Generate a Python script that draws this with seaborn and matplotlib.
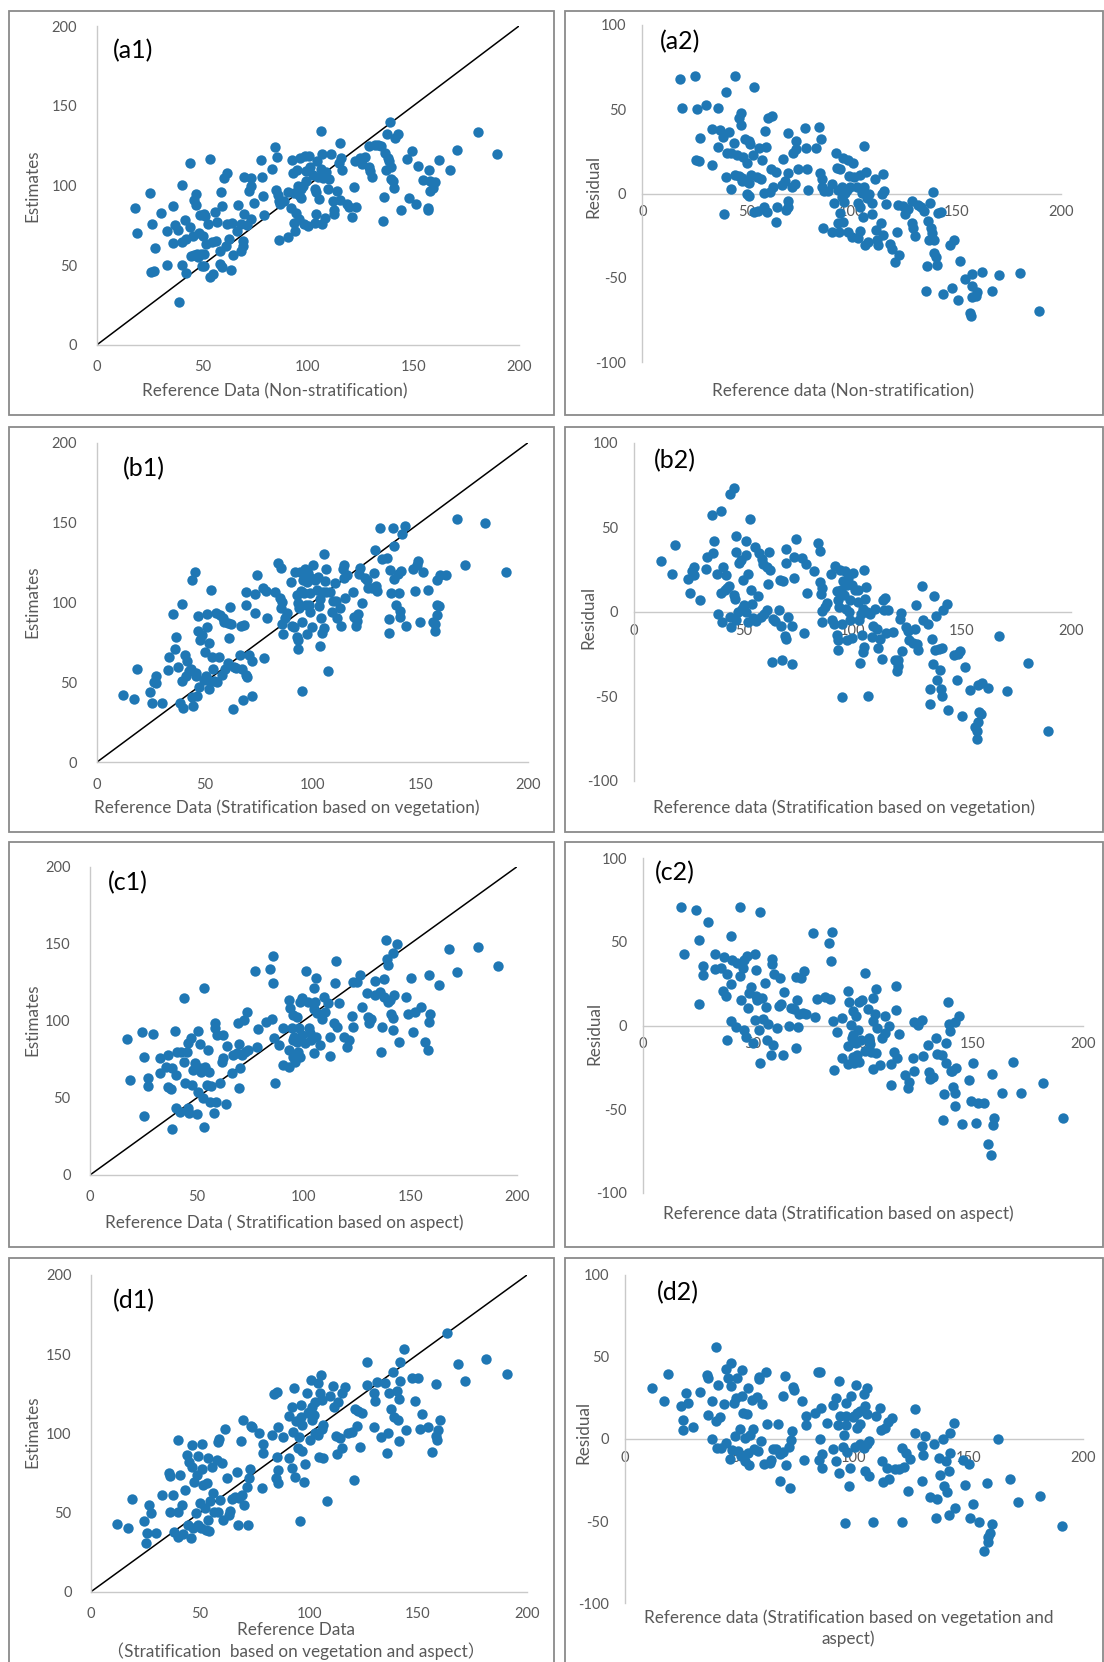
import numpy as np
import pandas as pd
import matplotlib
matplotlib.use("Agg")
import matplotlib.pyplot as plt
import seaborn as sns
from matplotlib.patches import Rectangle
from matplotlib.ticker import MultipleLocator

# ---------------- data ----------------
# (a) Non-stratification: reference values and residuals (estimate - reference)
ref_a = [18.0, 19.1, 25.2, 26.0, 25.7, 27.3, 27.7, 30.4, 33.3, 33.3, 36.3, 36.3, 37.3, 38.4, 38.9,
         40.2, 40.2, 40.5, 41.6, 42.3, 42.3, 44.0, 44.3, 44.5, 45.4, 46.1, 46.1, 47.0, 47.2, 47.5,
         47.8, 48.3, 49.1, 49.6, 49.9, 50.2, 51.0, 51.0, 51.0, 51.5, 52.0, 52.9, 53.5, 53.5, 54.7,
         55.1, 55.8, 56.6, 57.1, 58.3, 58.8, 59.3, 58.3, 59.4, 60.2, 61.8, 61.0, 61.5, 62.6, 63.9,
         64.4, 63.7, 66.6, 67.1, 68.2, 68.5, 69.5, 69.5, 69.6, 69.6, 71.4, 72.2, 73.3, 73.3, 73.0,
         74.6, 77.6, 78.4, 78.7, 79.2, 82.9, 84.5, 84.9, 85.4, 85.7, 86.1, 86.4, 86.7, 88.9, 90.5,
         90.5, 92.4, 91.8, 92.9, 93.4, 93.4, 94.0, 94.5, 94.7, 95.3, 95.6, 95.8, 96.1, 96.6, 96.9,
         97.7, 98.2, 98.5, 98.9, 99.3, 100.1, 100.6, 101.2, 102.5, 103.3, 103.3, 103.9, 103.9, 104.2, 104.9,
         105.3, 106.0, 106.0, 106.5, 106.8, 107.2, 108.0, 108.4, 109.6, 110.0, 111.2, 111.7, 112.2, 112.5, 113.9,
         114.7, 115.2, 115.2, 115.7, 116.3, 118.4, 119.5, 120.8, 121.8, 122.4, 122.9, 124.8, 125.6, 126.9, 129.1,
         129.1, 129.6, 130.4, 132.0, 133.2, 134.8, 135.4, 135.9, 136.4, 137.1, 137.7, 138.0, 138.3, 138.8, 139.3,
         139.6, 140.2, 140.9, 141.5, 142.8, 143.9, 147.1, 147.9, 149.2, 151.1, 152.0, 154.3, 157.4, 156.7, 157.1,
         157.8, 157.8, 159.4, 160.0, 162.2, 167.3, 170.7, 180.6, 189.6]
res_a = [68.0, 51.0, 69.8, 50.0, 20.0, 19.4, 33.2, 52.4, 38.3, 16.8, 50.6, 27.9, 37.7, 33.8, -11.9,
         60.3, 9.7, 23.9, 36.8, 2.8, 23.9, 30.2, 70.0, 11.1, 22.9, 44.7, 10.5, 47.6, 40.7, 9.5,
         7.3, 21.9, 32.6, 7.7, -0.4, 18.0, 31.0, 6.1, -1.4, 29.2, 11.1, 23.1, 63.4, -10.7, 9.7,
         -10.3, 27.3, 8.5, 20.0, 0.6, 37.4, 27.9, -7.7, -10.7, 44.7, 46.0, 1.2, 14.4, 3.8, 12.6,
         -8.1, -16.8, 5.1, 20.4, 7.7, -9.7, -4.2, -7.7, 36.0, 12.5, 3.8, 24.3, 31.2, 26.3, 5.7,
         14.4, 38.7, 26.9, 14.8, 2.0, 27.3, 39.7, 12.1, 32.2, 8.5, 4.2, -20.6, 1.6, 1.6, 5.7,
         -22.5, 23.9, -5.7, 15.0, 2.2, -17.2, -22.5, -11.7, 14.8, 4.2, -1.8, -16.6, 20.9, -4.7, 0.6,
         2.2, -22.5, 20.0, 10.5, 3.8, -25.5, 18.0, 10.1, 4.2, -5.3, -26.5, -21.9, -7.7, 11.1, 0.6,
         -14.0, 28.3, 4.2, -30.4, 13.0, -2.8, -28.5, -0.2, -12.1, -5.7, 8.5, -21.5, -27.5, -30.6, -17.2,
         -0.4, 11.7, -24.5, 1.6, -6.3, -30.0, -33.0, -40.3, -22.5, -6.9, -36.4, -7.3, -12.1, -9.3, -4.2,
         -17.2, -20.6, -25.1, -6.9, -8.1, -10.3, -57.7, -42.9, -16.0, -27.5, -5.7, -20.6, -23.1, 1.0, -27.5,
         -35.4, -37.4, -42.3, -11.7, -10.7, -59.5, -30.4, -55.7, -27.5, -63.0, -39.7, -50.8, -47.6, -70.9, -72.5,
         -54.7, -61.1, -60.7, -58.1, -46.2, -57.7, -48.2, -47.2, -69.6]

# (b) Stratification based on vegetation: reference values and residuals
ref_b = [12.4, 17.4, 18.9, 24.6, 25.8, 26.4, 27.3, 27.6, 30.1, 33.0, 33.3, 35.5, 36.3, 36.6, 37.8,
         38.6, 39.7, 39.7, 40.1, 40.9, 41.6, 41.9, 42.7, 43.6, 44.0, 44.1, 44.5, 45.6, 45.9, 46.2,
         46.5, 46.8, 46.8, 47.4, 48.0, 49.0, 49.6, 50.0, 50.5, 51.1, 51.1, 51.4, 52.0, 52.3, 53.1,
         53.4, 53.9, 54.6, 55.3, 55.9, 56.6, 57.4, 58.1, 58.7, 59.2, 59.6, 60.7, 60.7, 61.5, 61.8,
         62.2, 63.3, 63.7, 64.5, 66.5, 66.8, 67.3, 67.9, 68.3, 69.1, 69.4, 69.4, 69.7, 70.6, 72.2,
         72.2, 73.4, 73.4, 74.3, 77.0, 77.6, 78.6, 79.0, 82.5, 84.0, 85.1, 85.3, 85.6, 85.9, 85.9,
         86.2, 87.4, 88.2, 90.1, 90.5, 91.7, 92.0, 92.7, 92.7, 93.2, 93.2, 93.5, 93.8, 94.3, 94.7,
         95.0, 95.3, 95.8, 96.2, 96.6, 96.9, 97.4, 97.6, 98.1, 98.4, 98.8, 98.8, 99.6, 99.9, 100.4,
         101.1, 102.3, 102.7, 103.1, 103.4, 103.7, 104.2, 104.6, 105.0, 105.2, 105.4, 105.7, 106.2, 106.5, 107.2,
         108.0, 109.1, 109.5, 110.3, 111.0, 111.5, 112.6, 113.3, 114.1, 114.6, 114.9, 115.2, 116.1, 118.7, 119.5,
         120.2, 120.7, 121.0, 121.7, 122.2, 122.8, 124.3, 125.2, 125.9, 127.8, 128.6, 129.0, 129.4, 130.1, 131.6,
         132.4, 134.7, 135.5, 135.5, 136.2, 136.7, 137.5, 137.7, 138.0, 138.8, 139.6, 140.0, 140.5, 140.8, 141.1,
         141.6, 143.1, 143.6, 146.6, 147.7, 148.4, 149.2, 150.0, 151.5, 153.8, 156.1, 157.0, 157.1, 157.6, 157.6,
         157.9, 158.8, 159.1, 162.2, 167.0, 170.6, 180.2, 189.6]
res_b = [29.8, 22.1, 39.3, 19.1, 11.0, 24.1, 26.4, 21.9, 6.7, 25.0, 32.5, 57.4, 34.7, 41.6, 22.1,
         -1.2, 59.6, 11.0, -6.1, 26.4, 12.6, 21.5, 14.2, 15.0, -3.2, 69.8, -9.1, 73.4, 10.1, 7.7,
         -5.1, 44.8, 35.3, -0.2, 28.8, 30.4, 1.8, 18.9, 3.7, 41.8, 33.3, -0.2, -6.1, 22.5, 55.0,
         12.6, 4.7, -3.6, 38.3, -5.5, 9.1, 34.7, -3.2, 31.4, 28.4, -1.2, 1.2, 26.4, 16.2, 35.3,
         24.5, -30.0, -4.1, -5.7, 0.8, 18.5, -8.7, -28.8, 17.9, -14.6, 28.8, 37.3, -16.2, -3.2, -30.8,
         -8.7, 20.1, 32.1, 43.0, 31.8, -12.6, 28.4, 11.0, 24.1, 40.6, 17.6, 36.1, 10.7, 14.2, 0.4,
         -6.1, 2.8, 5.3, 22.5, -5.1, -7.1, 26.8, 12.2, -14.0, 6.7, -16.6, -22.9, 2.8, 24.9, 12.6,
         -7.1, -50.5, 18.1, 9.7, 24.1, 1.8, 15.6, -17.0, 20.1, -0.2, 7.1, -4.7, 15.6, -15.4, 22.9,
         13.0, 5.7, 13.0, -5.1, -30.4, -1.2, -14.0, -23.9, 1.8, -20.9, 24.9, 7.7, 14.6, -0.2, -50.1,
         -1.2, -15.0, -8.7, 1.8, -10.1, -21.3, -16.0, -27.8, 7.1, 0.8, 8.3, -12.6, 0.8, -12.0, -28.8,
         -35.1, -32.3, -28.4, -4.1, -0.8, -23.3, -9.1, -11.4, -17.0, -18.5, -10.1, 3.7, -18.9, -22.9, 15.0,
         -5.1, -7.1, -45.6, -54.8, -16.0, -30.8, 9.1, -22.9, -2.8, -40.6, -21.9, -34.3, -45.6, -50.1, -21.3,
         1.2, 4.7, -58.4, -25.8, -40.6, -24.9, -23.5, -61.9, -32.7, -46.2, -68.2, -75.1, -70.6, -65.3, -43.6,
         -59.4, -60.7, -42.2, -45.0, -14.6, -46.9, -30.4, -70.6]

# (c) Stratification based on aspect: reference values and estimates
ref_c = [17.2, 18.8, 24.2, 25.5, 25.5, 27.3, 27.3, 29.7, 32.8, 32.8, 35.6, 36.3, 36.6, 37.8, 38.4,
         38.4, 40.0, 40.2, 40.2, 40.6, 42.2, 42.7, 44.1, 44.1, 44.5, 45.3, 45.8, 46.1, 46.6, 47.3,
         47.7, 48.4, 49.2, 50.0, 50.8, 50.8, 51.3, 51.3, 51.9, 52.8, 53.4, 53.4, 53.9, 54.7, 55.5,
         55.9, 56.3, 56.7, 58.1, 58.6, 58.6, 59.1, 59.7, 60.9, 61.7, 62.2, 62.5, 63.6, 64.1, 66.4,
         67.2, 68.8, 69.5, 69.7, 70.0, 70.3, 71.1, 71.9, 72.7, 73.4, 74.2, 77.3, 78.1, 78.9, 82.5,
         84.4, 85.2, 85.6, 85.9, 86.3, 86.7, 88.3, 90.6, 90.6, 93.0, 93.0, 93.4, 93.8, 94.5, 95.0,
         95.3, 95.3, 95.6, 96.9, 98.4, 99.5, 97.7, 96.9, 97.3, 96.1, 98.4, 99.2, 100.8, 101.1, 102.3,
         102.7, 103.1, 103.6, 104.7, 104.7, 105.5, 105.8, 105.8, 106.3, 104.7, 107.8, 108.6, 109.8, 110.2, 111.7,
         112.5, 112.5, 114.1, 114.8, 115.2, 115.6, 116.4, 119.2, 120.3, 121.1, 122.7, 123.0, 123.4, 125.0, 126.6,
         127.3, 129.7, 130.2, 130.5, 131.7, 133.3, 133.6, 136.0, 136.4, 137.0, 137.5, 137.9, 138.6, 139.1, 139.5,
         139.8, 140.6, 141.1, 141.7, 141.7, 141.9, 142.2, 143.8, 144.8, 148.0, 149.1, 150.2, 151.3, 152.3, 155.2,
         157.0, 158.3, 158.6, 158.9, 159.4, 163.3, 168.3, 171.9, 181.7, 191.1]
est_c = [88.2, 61.8, 93.0, 38.5, 76.8, 63.1, 57.7, 91.5, 75.7, 66.4, 70.3, 56.9, 77.8, 55.6, 29.6,
         69.2, 93.6, 64.9, 43.2, 80.0, 41.1, 80.0, 115.0, 73.5, 59.5, 80.0, 43.2, 85.4, 40.0, 88.6,
         58.4, 68.1, 72.4, 39.4, 93.4, 54.1, 84.8, 69.2, 67.0, 50.2, 121.5, 30.9, 70.3, 58.4, 81.1,
         67.0, 47.6, 57.9, 40.4, 98.4, 95.1, 47.6, 90.8, 59.5, 73.5, 90.8, 75.7, 45.8, 83.9, 65.9,
         77.8, 79.0, 98.4, 56.6, 85.2, 69.2, 77.8, 100.5, 80.0, 105.9, 81.1, 132.5, 83.2, 94.7, 99.5,
         133.6, 101.0, 124.3, 142.1, 89.1, 59.9, 84.3, 95.1, 71.4, 113.5, 81.1, 70.3, 108.1, 95.1, 87.6,
         103.8, 76.8, 89.7, 102.7, 112.4, 114.6, 95.1, 86.5, 80.0, 73.5, 76.8, 90.8, 85.4, 132.3, 112.4,
         95.1, 91.9, 87.6, 121.1, 107.7, 112.4, 127.6, 89.7, 104.9, 78.9, 84.3, 101.0, 115.7, 105.9, 111.4,
         89.7, 77.2, 98.4, 124.3, 138.8, 96.2, 111.4, 89.7, 83.2, 87.6, 103.1, 125.4, 96.2, 125.4, 129.7,
         109.2, 118.3, 102.7, 98.4, 101.2, 125.8, 116.8, 118.5, 80.0, 96.2, 127.1, 115.7, 152.4, 140.1, 136.2,
         112.4, 113.5, 104.2, 143.8, 101.6, 94.1, 116.8, 149.6, 86.1, 115.7, 104.2, 128.0, 93.0, 105.9, 109.2,
         86.5, 81.1, 129.7, 99.5, 104.2, 123.2, 146.4, 131.9, 147.7, 135.8]

# (d) Stratification based on vegetation and aspect: reference values and estimates
ref_d = [11.8, 17.1, 18.7, 24.5, 25.2, 25.5, 26.8, 27.5, 29.7, 32.7, 35.8, 36.2, 36.2, 37.8, 38.2,
         39.8, 39.8, 40.1, 40.8, 41.6, 42.0, 43.1, 43.9, 44.3, 45.0, 45.9, 46.2, 46.5, 46.9, 47.4,
         48.0, 48.5, 48.9, 49.2, 50.0, 50.5, 51.1, 51.1, 51.5, 52.3, 52.6, 53.1, 53.5, 53.8, 54.1,
         54.6, 55.4, 56.1, 56.4, 57.6, 58.1, 58.4, 58.7, 59.2, 59.9, 60.7, 61.5, 62.2, 63.3, 63.8,
         64.5, 66.1, 66.8, 67.6, 67.9, 68.8, 69.1, 69.9, 70.3, 71.4, 72.2, 72.5, 72.9, 73.4, 74.0,
         77.1, 78.3, 79.1, 79.1, 82.9, 84.1, 85.2, 85.6, 85.2, 85.9, 84.7, 85.9, 88.2, 90.8, 90.8,
         92.0, 92.0, 92.8, 93.3, 93.6, 93.9, 95.1, 95.6, 95.9, 96.3, 96.3, 96.6, 96.9, 97.9, 98.2,
         98.9, 99.4, 100.0, 100.5, 100.9, 101.2, 101.5, 105.5, 104.3, 105.0, 105.8, 111.2, 109.6, 115.0, 116.5,
         113.5, 111.6, 102.8, 102.5, 102.8, 105.8, 106.6, 104.3, 104.6, 106.6, 108.1, 112.2, 112.7, 114.2, 115.3,
         118.1, 119.6, 120.8, 121.1, 121.9, 122.6, 123.4, 124.5, 126.6, 126.6, 129.7, 129.7, 130.3, 131.0, 133.0,
         134.9, 135.6, 136.4, 136.9, 137.6, 138.7, 139.2, 140.2, 140.7, 141.3, 141.4, 141.8, 141.8, 143.7, 144.3,
         147.4, 148.6, 150.1, 150.7, 151.8, 154.8, 156.6, 158.1, 158.3, 158.6, 159.4, 160.1, 163.1, 168.2, 171.6,
         181.2, 190.7]
est_d = [42.5, 40.0, 58.3, 44.6, 30.5, 36.8, 54.7, 49.5, 36.8, 61.1, 74.7, 73.3, 50.5, 61.1, 37.9,
         95.8, 50.5, 34.7, 73.7, 54.7, 36.2, 64.2, 86.3, 42.1, 82.1, 33.7, 92.6, 78.9, 40.0, 69.5,
         49.5, 73.7, 85.9, 42.1, 55.8, 40.0, 93.3, 77.5, 67.4, 52.6, 38.9, 68.4, 84.2, 45.3, 38.3,
         57.3, 78.9, 62.1, 50.1, 83.2, 50.5, 94.7, 96.4, 57.9, 81.1, 45.3, 102.5, 71.6, 48.4, 50.9,
         58.3, 60.0, 75.8, 42.1, 58.9, 95.2, 61.1, 108.4, 54.7, 66.3, 42.1, 71.6, 77.5, 104.8, 103.8,
         100.0, 65.7, 93.3, 87.4, 98.9, 124.6, 125.9, 104.2, 85.3, 76.8, 72.0, 68.4, 97.9, 84.6, 111.2,
         78.3, 116.8, 101.1, 128.4, 72.6, 107.8, 90.5, 97.9, 44.6, 117.9, 110.5, 105.3, 88.8, 69.5, 80.4,
         125.3, 112.6, 113.7, 95.8, 133.7, 116.8, 108.4, 136.8, 131.6, 125.3, 121.1, 130.1, 123.8, 125.3, 129.5,
         120.0, 116.8, 120.0, 111.6, 100.0, 102.7, 105.3, 98.9, 85.3, 84.2, 57.3, 98.5, 86.7, 96.8, 90.9,
         100.0, 101.1, 70.5, 115.4, 104.8, 114.1, 91.6, 112.6, 144.8, 130.5, 104.2, 125.3, 120.4, 132.6, 97.9,
         131.6, 87.4, 100.0, 125.3, 115.4, 138.5, 110.5, 126.7, 108.4, 121.7, 95.4, 145.3, 133.1, 153.3, 102.1,
         134.7, 120.4, 134.7, 102.7, 112.0, 104.2, 88.4, 131.2, 98.5, 95.8, 102.1, 108.4, 163.2, 143.6, 133.1,
         146.7, 137.7]

one_to_one = [0, 200]

labels_est = ["(a1)", "(b1)", "(c1)", "(d1)"]
labels_res = ["(a2)", "(b2)", "(c2)", "(d2)"]
xtitles_est = ["Reference Data (Non-stratification)",
               "Reference Data (Stratification based on vegetation)",
               "Reference Data ( Stratification based on aspect)",
               "Reference Data\n\uff08Stratification  based on vegetation and aspect\uff09"]
xtitles_res = ["Reference data (Non-stratification)",
               "Reference data (Stratification based on vegetation)",
               "Reference data (Stratification based on aspect)",
               "Reference data (Stratification based on vegetation and\naspect)"]

# build tidy tables
frames = []
for key, ref, vals, kind in [("a", ref_a, res_a, "res"), ("b", ref_b, res_b, "res"),
                             ("c", ref_c, est_c, "est"), ("d", ref_d, est_d, "est")]:
    r = np.array(ref, float)
    v = np.array(vals, float)
    if kind == "res":
        est, res = r + v, v
    else:
        est, res = v, v - r
    frames.append(pd.DataFrame({"panel": key, "ref": r, "est": est, "res": res}))
df = pd.concat(frames, ignore_index=True)

# ---------------- figure ----------------
W, H = 1104, 1662
sns.set_theme(style="white")
plt.rcParams['font.family'] = ['Lato', 'Noto Sans CJK SC', 'DejaVu Sans']
plt.rcParams['axes.unicode_minus'] = False

fig = plt.figure(figsize=(W / 100, H / 100), dpi=100)
fig.patch.set_facecolor("white")

def fx(p):
    return p / W

def fy(p):
    return 1 - p / H

def add_ax(x0, x1, ytop, ybot):
    return fig.add_axes([fx(x0), fy(ybot), fx(x1 - x0), (ybot - ytop) / H])

DOT = "#1f77b4"
AXC = "#C9C9C9"
TXT = "#595959"
TICK_FS = 10.5
TITLE_FS = 12.3
PANEL_FS = 18
DOT_S = 56

# panel frames (px): left/right x, row top/bottom
rows = [(10.6, 415.3), (427.0, 831.7), (842.3, 1247.0), (1257.6, 1672.0)]
cols = [(8.5, 554.0), (565.0, 1103.0)]
for (t, b) in rows:
    for (l, r) in cols:
        fig.patches.append(Rectangle((fx(l), fy(b)), fx(r - l), (b - t) / H,
                                     transform=fig.transFigure, fill=False,
                                     edgecolor="#8A8A8A", linewidth=1.3, zorder=0))

# axes geometry in px: (x at 0, x at 200, y top value, y bottom value)
est_geom = [(96.7, 519.0, 26.0, 345.0), (96.7, 528.0, 442.7, 762.3),
            (90.0, 517.0, 866.7, 1175.0), (91.0, 527.0, 1275.0, 1591.7)]
res_geom = [(642.3, 1060.7, 25.0, 362.3), (634.0, 1071.0, 442.7, 780.7),
            (643.0, 1083.0, 858.2, 1193.0), (625.0, 1083.0, 1274.6, 1603.3)]

est_lab_pos = [(133.5, 51), (144, 469), (128, 882.6), (133.5, 1301)]
res_lab_pos = [(680, 42), (675, 461), (675, 873), (678, 1292.6)]
est_xt_pos = [(274.4, 391), (287, 807.4), (284, 1222.7), (296, 1641)]
res_xt_pos = [(843, 391.7), (844.3, 808), (838, 1214), (848.3, 1628.5)]
est_yt_pos = [(32, 185.4), (32, 602), (32, 1020), (32, 1432)]
res_yt_pos = [(593, 186.7), (588.3, 617), (594, 1033), (583, 1432)]

def style_axis(ax):
    for s in ["top", "right"]:
        ax.spines[s].set_visible(False)
    for s in ["left", "bottom"]:
        ax.spines[s].set_color(AXC)
        ax.spines[s].set_linewidth(1.0)
    ax.xaxis.set_major_locator(MultipleLocator(50))
    ax.xaxis.set_minor_locator(MultipleLocator(10))
    ax.yaxis.set_minor_locator(MultipleLocator(10))
    ax.tick_params(which="both", colors=AXC, labelcolor=TXT, labelsize=TICK_FS, width=1.0)
    ax.tick_params(which="major", length=5)
    ax.tick_params(which="minor", length=4)
    ax.set_facecolor("none")
    ax.set_xlabel("")
    ax.set_ylabel("")

for i, key in enumerate(["a", "b", "c", "d"]):
    sub = df[df.panel == key]
    # --- estimates vs reference ---
    x0, x1, yt, yb = est_geom[i]
    ax = add_ax(x0, x1, yt, yb)
    sns.lineplot(x=one_to_one, y=one_to_one, ax=ax, color="black", linewidth=1.1, zorder=2)
    sns.scatterplot(data=sub, x="ref", y="est", ax=ax, color=DOT, s=DOT_S,
                    linewidth=0, legend=False, zorder=3, clip_on=False)
    ax.set_xlim(0, 200)
    ax.set_ylim(0, 200)
    ax.yaxis.set_major_locator(MultipleLocator(50))
    style_axis(ax)
    ax.tick_params(axis="x", which="both", direction="out", pad=6)
    ax.tick_params(axis="y", which="both", direction="out", pad=9)
    fig.text(fx(est_lab_pos[i][0]), fy(est_lab_pos[i][1]), labels_est[i], fontsize=PANEL_FS,
             color="black", ha="center", va="center")
    fig.text(fx(est_xt_pos[i][0]), fy(est_xt_pos[i][1]), xtitles_est[i], fontsize=TITLE_FS,
             color=TXT, ha="center", va="center", linespacing=1.3)
    fig.text(fx(est_yt_pos[i][0]), fy(est_yt_pos[i][1]), "Estimates", fontsize=TITLE_FS,
             color=TXT, ha="center", va="center", rotation=90)

    # --- residual vs reference ---
    x0, x1, yt, yb = res_geom[i]
    ax = add_ax(x0, x1, yt, yb)
    sns.scatterplot(data=sub, x="ref", y="res", ax=ax, color=DOT, s=DOT_S,
                    linewidth=0, legend=False, zorder=3, clip_on=False)
    ax.set_xlim(0, 200)
    ax.set_ylim(-100, 100)
    ax.yaxis.set_major_locator(MultipleLocator(50))
    style_axis(ax)
    ax.spines["bottom"].set_position(("data", 0))
    ax.tick_params(axis="x", which="both", direction="inout", pad=6)
    ax.tick_params(axis="y", which="both", direction="inout", pad=9)
    for lab in ax.get_xticklabels() + ax.get_yticklabels():
        lab.set_zorder(1)
    fig.text(fx(res_lab_pos[i][0]), fy(res_lab_pos[i][1]), labels_res[i], fontsize=PANEL_FS,
             color="black", ha="center", va="center")
    fig.text(fx(res_xt_pos[i][0]), fy(res_xt_pos[i][1]), xtitles_res[i], fontsize=TITLE_FS,
             color=TXT, ha="center", va="center", linespacing=1.3)
    fig.text(fx(res_yt_pos[i][0]), fy(res_yt_pos[i][1]), "Residual", fontsize=TITLE_FS,
             color=TXT, ha="center", va="center", rotation=90)

fig.savefig("out.png", dpi=100, facecolor="white")
